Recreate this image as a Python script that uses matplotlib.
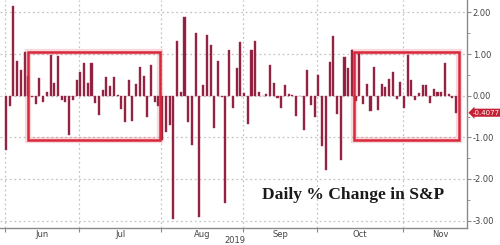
import matplotlib.pyplot as plt
from matplotlib.patches import Rectangle
import numpy as np

# daily % change of the S&P, one value per trading day (31 May - 20 Nov 2019)
changes = [
    -1.30, -0.25, 2.15, 0.83, 0.62, 1.06, 0.47, -0.03, -0.19, 0.42,
    -0.14, 0.10, 0.99, 0.31, 0.96, -0.10, -0.15, -0.94, -0.10, 0.38,
    0.58, 0.78, 0.30, 0.78, -0.17, -0.46, 0.13, 0.46, 0.24, 0.46,
    0.02, -0.33, -0.64, 0.37, -0.60, 0.29, 0.70, 0.47, -0.51, 0.75,
    -0.14, -0.25, -1.06, -0.88, -0.70,
    -2.97, 1.32, 0.08, 1.90, -0.64, -1.18, 1.50, -2.92, 0.25, 1.46,
    1.22, -0.78, 0.84, -0.03, -2.58, 1.11, -0.30, 0.66, 1.28, 0.06,
    -0.67, 1.09, 1.32, 0.10, -0.01, 0.04, 0.73, 0.30, -0.06, -0.30,
    0.26, 0.04, 0.01, -0.48, -0.01, -0.82, 0.63, -0.23, -0.52, 0.50,
    -1.21, -1.78, 0.80, 1.43, -0.44, -1.54, 0.92, 0.66, 1.11, -0.12,
    1.02, -0.19, 0.28, -0.37, 0.70, -0.34, 0.28, 0.20, 0.41, 0.57,
    -0.07, 0.34, -0.29,
    0.98, 0.38, -0.10, 0.07, 0.27, 0.26, -0.18, 0.15, 0.08, 0.08,
    0.78, 0.03, -0.05, -0.41,
]
months = ['Jun', 'Jul', 'Aug', 'Sep', 'Oct', 'Nov']
# trading-day index where each month starts (last entry = end of Nov)
month_start = [1, 21, 43, 65, 85, 108, 128]
last_value = -0.4077
yticks = [-3, -2, -1, 0, 1, 2]

bar_col = '#8e1f40'
grid_col = '#c4c4c4'
axis_col = '#8a8a8a'
box_col = '#d8283a'

fig = plt.figure(figsize=(5, 2.45), dpi=100)
ax = fig.add_axes([0.0, 0.0706, 0.933, 0.9294])

x = np.arange(len(changes))
ax.bar(x, changes, width=0.55, color=bar_col, edgecolor='#a3334f',
       linewidth=0.3, zorder=3)

ax.set_xlim(-1.6, 123.8)
ax.set_ylim(-3.17, 2.30)

# dotted grid
for y in yticks:
    ax.axhline(y, color=grid_col, ls=(0, (1.5, 2.2)), lw=0.9, zorder=1)
bounds = [m - 1.3 for m in month_start]
for b in bounds[:-1]:
    ax.axvline(b, color=grid_col, ls=(0, (1.5, 2.2)), lw=0.9, zorder=1)

# highlight boxes
for x0, x1 in [(5.9, 41.4), (93.6, 121.7)]:
    for lw, a in [(4.5, 0.18), (1.8, 1.0)]:
        ax.add_patch(Rectangle((x0, -1.06), x1 - x0, 2.11, fill=False,
                               ec=box_col, lw=lw, alpha=a, zorder=4))

# axes look
for s in ['left', 'top']:
    ax.spines[s].set_visible(False)
for s in ['right', 'bottom']:
    ax.spines[s].set_color(axis_col)
    ax.spines[s].set_linewidth(1.0)

ax.yaxis.tick_right()
ax.set_yticks(yticks)
ax.set_yticklabels(['%.2f' % v for v in yticks])
ax.set_yticks(np.arange(-3, 2.5, 0.5), minor=True)
ax.tick_params(axis='y', which='both', direction='out', length=3,
               color=axis_col, labelsize=6, labelcolor='#444444', pad=1.5)
ax.tick_params(axis='y', which='minor', length=2)

mids = [(bounds[i] + bounds[i + 1]) / 2 for i in range(len(months))]
ax.set_xticks(bounds[:-1])
ax.set_xticklabels([])
ax.set_xticks(mids, minor=True)
ax.set_xticklabels(months, minor=True)
ax.tick_params(axis='x', which='major', direction='out', length=3,
               color=axis_col)
ax.tick_params(axis='x', which='minor', length=0, labelsize=6,
               labelcolor='#444444', pad=1.5)

fig.text(0.47, 0.02, '2019', ha='center', va='center', fontsize=6,
         color='#444444')

# last value tag
ax.annotate('%.4f' % last_value, xy=(1.0, last_value),
            xycoords=('axes fraction', 'data'), xytext=(4.5, 0),
            textcoords='offset points', ha='left', va='center',
            fontsize=5, color='white', annotation_clip=False,
            bbox=dict(boxstyle='larrow,pad=0.15', fc='#c41f33', ec='none'))

fig.text(0.524, 0.205, 'Daily % Change in S&P', ha='left', va='center',
         fontsize=12.6, fontweight='bold', family='Liberation Serif',
         color='#1a1a1a')

fig.savefig('out.png', dpi=100)
